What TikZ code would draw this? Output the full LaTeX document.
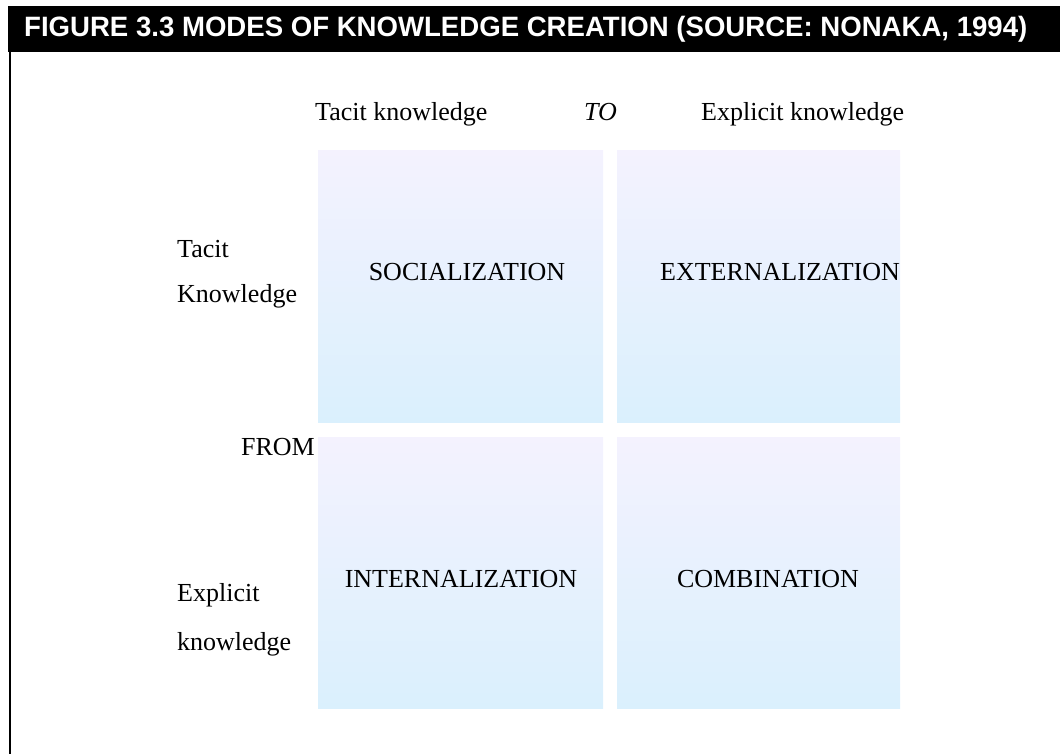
\documentclass[tikz,border=0pt]{standalone}
\usepackage{fontspec}
\setmainfont{Liberation Serif}
\newfontfamily\headfont{Liberation Sans}
\definecolor{boxtop}{RGB}{244,242,254}
\definecolor{boxbot}{RGB}{218,240,253}
\begin{document}
\begin{tikzpicture}[x=1pt,y=-1pt,
  quad/.style={draw=none, top color=boxtop, bottom color=boxbot, minimum width=285pt, minimum height=272pt, inner sep=0pt, anchor=north west},
  lbl/.style={font=\fontsize{26}{30}\selectfont, inner sep=0pt, anchor=base west},
  modelbl/.style={font=\fontsize{26}{30}\selectfont, inner sep=0pt, anchor=base}]
\useasboundingbox (0,0) rectangle (1060,754);
\fill[black] (8,6) rectangle (1060,52);
\node[anchor=base west, inner sep=0pt, text=white, font=\headfont\bfseries\fontsize{28}{32}\selectfont, xscale=0.985] (title) at (24,37) {FIGURE 3.3 MODES OF KNOWLEDGE CREATION (SOURCE: NONAKA, 1994)};
\draw[line width=2pt] (10,52) -- (10,754);
\node[quad] (soc) at (318,150) {};
\node[quad, minimum width=283pt] (ext) at (617,150) {};
\node[quad, minimum height=271pt] (int) at (318,437) {};
\node[quad, minimum width=283pt, minimum height=271pt] (com) at (617,437) {};
\node[modelbl] (socl) at (467,280) {SOCIALIZATION};
\node[modelbl] (extl) at (780,280) {EXTERNALIZATION};
\node[modelbl] (intl) at (461,587) {INTERNALIZATION};
\node[modelbl] (coml) at (768,587) {COMBINATION};
\node[lbl] (tk) at (315,121) {Tacit knowledge};
\node[lbl, font=\fontsize{26}{30}\selectfont\itshape] (to) at (584,121) {TO};
\node[lbl] (ek) at (701,121) {Explicit knowledge};
\node[lbl] (t1) at (177,258) {Tacit};
\node[lbl] (t2) at (177,302) {Knowledge};
\node[lbl, anchor=base east] (from) at (315,455) {FROM};
\node[lbl] (e1) at (177,601) {Explicit};
\node[lbl] (e2) at (177,650) {knowledge};
\end{tikzpicture}
\end{document}
